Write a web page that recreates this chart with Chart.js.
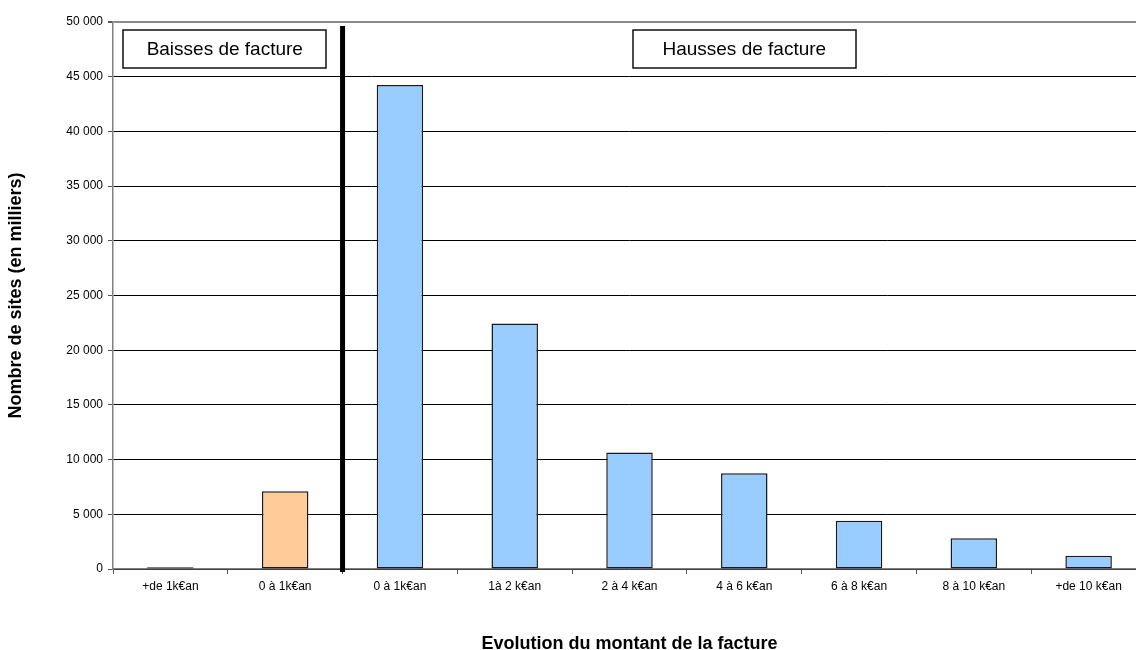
<!DOCTYPE html>
<html lang="fr">
<head>
<meta charset="utf-8">
<title>Evolution du montant de la facture</title>
<script src="https://cdn.jsdelivr.net/npm/chart.js@4/dist/chart.umd.min.js"></script>
<style>
  html, body { margin: 0; padding: 0; background: #fff; overflow: hidden; }
  #wrap { width: 1150px; height: 650px; }
</style>
</head>
<body>
<div id="wrap"><canvas id="chart" width="1150" height="650"></canvas></div>
<script>
// --- DONNEES ---
const categories = ['+de 1k€an', '0 à 1k€an', '0 à 1k€an', '1à 2 k€an', '2 à 4 k€an',
                    '4 à 6 k€an', '6 à 8 k€an', '8 à 10 k€an', '+de 10 k€an'];
const nbSites = [170, 7100, 44250, 22450, 10650, 8750, 4420, 2820, 1200];
const groupes = ['baisse', 'baisse', 'hausse', 'hausse', 'hausse', 'hausse', 'hausse', 'hausse', 'hausse'];
const yTicks = [0, 5000, 10000, 15000, 20000, 25000, 30000, 35000, 40000, 45000, 50000];
const zoneLabels = ['Baisses de facture', 'Hausses de facture'];
const zoneFrom = [0, 2];
const zoneTo = [1, 8];

// cadres : largeur et décalage horizontal (px)
const zoneBox = [{ w: 203, dx: -3 }, { w: 223, dx: 0 }];

const FONT = "'Liberation Sans', Arial, sans-serif";
const couleurs = { baisse: '#FFCC99', hausse: '#99CCFF' };

// milliers séparés par une espace
const fmt = v => String(v).replace(/\B(?=(\d{3})+(?!\d))/g, ' ');

// séparateur vertical + cadres de texte
const zonesPlugin = {
    id: 'zones',
    afterDatasetsDraw(chart) {
        const { ctx, scales: { x }, chartArea } = chart;
        const half = (x.getPixelForValue(1) - x.getPixelForValue(0)) / 2;
        const sep = (x.getPixelForValue(1) + x.getPixelForValue(2)) / 2;

        ctx.save();
        ctx.strokeStyle = '#000';
        ctx.lineWidth = 5;
        ctx.beginPath();
        ctx.moveTo(sep, chartArea.top + 4);
        ctx.lineTo(sep, chartArea.bottom + 3);
        ctx.stroke();

        ctx.font = '19px ' + FONT;
        ctx.textAlign = 'center';
        ctx.textBaseline = 'middle';
        zoneLabels.forEach((label, i) => {
            const left = x.getPixelForValue(zoneFrom[i]) - half;
            const right = x.getPixelForValue(zoneTo[i]) + half;
            const cx = (left + right) / 2 + zoneBox[i].dx;
            const w = zoneBox[i].w;
            const top = chartArea.top + 8, h = 38;
            ctx.fillStyle = '#fff';
            ctx.fillRect(cx - w / 2, top, w, h);
            ctx.lineWidth = 1.5;
            ctx.strokeStyle = '#111';
            ctx.strokeRect(Math.round(cx - w / 2), top, w, h);
            ctx.fillStyle = '#000';
            ctx.fillText(label, cx, top + h / 2 + 1);
        });
        ctx.restore();
    }
};

new Chart(document.getElementById('chart'), {
    type: 'bar',
    data: {
        labels: categories,
        datasets: [{
            data: nbSites,
            backgroundColor: groupes.map(g => couleurs[g]),
            borderColor: '#1a1a1a',
            borderWidth: 1.5,
            borderSkipped: false,
            barPercentage: 0.405,
            categoryPercentage: 1
        }]
    },
    options: {
        responsive: false,
        animation: false,
        devicePixelRatio: 1,
        layout: { padding: { top: 22, right: 4, bottom: 0, left: 0 } },
        plugins: { legend: { display: false }, tooltip: { enabled: false } },
        scales: {
            x: {
                afterFit: s => { s.height = 81; },
                grid: { offset: true, drawOnChartArea: false, tickLength: 5, color: '#555' },
                border: { color: '#808080', width: 1.5 },
                ticks: { color: '#000', font: { family: FONT, size: 12 }, padding: 5, maxRotation: 0 },
                title: {
                    display: true,
                    text: 'Evolution du montant de la facture',
                    color: '#000',
                    font: { family: FONT, size: 18, weight: 'bold' },
                    padding: { top: 0, bottom: -5 }
                }
            },
            y: {
                min: 0,
                max: 50000,
                afterFit: s => { s.width = 113; },
                afterBuildTicks: s => { s.ticks = yTicks.map(v => ({ value: v })); },
                grid: {
                    color: c => c.tick && c.tick.value === 50000 ? '#8c8c8c' : '#000',
                    tickColor: '#555',
                    tickLength: 5,
                    lineWidth: c => c.tick && c.tick.value === 50000 ? 2 : 1
                },
                border: { color: '#808080', width: 1.5 },
                ticks: { color: '#000', font: { family: FONT, size: 12 }, padding: 5, callback: v => fmt(v) },
                title: {
                    display: true,
                    text: 'Nombre de sites (en milliers)',
                    color: '#000',
                    font: { family: FONT, size: 18, weight: 'bold' },
                    padding: { top: 5, bottom: 0 }
                }
            }
        }
    },
    plugins: [zonesPlugin]
});
</script>
</body>
</html>
